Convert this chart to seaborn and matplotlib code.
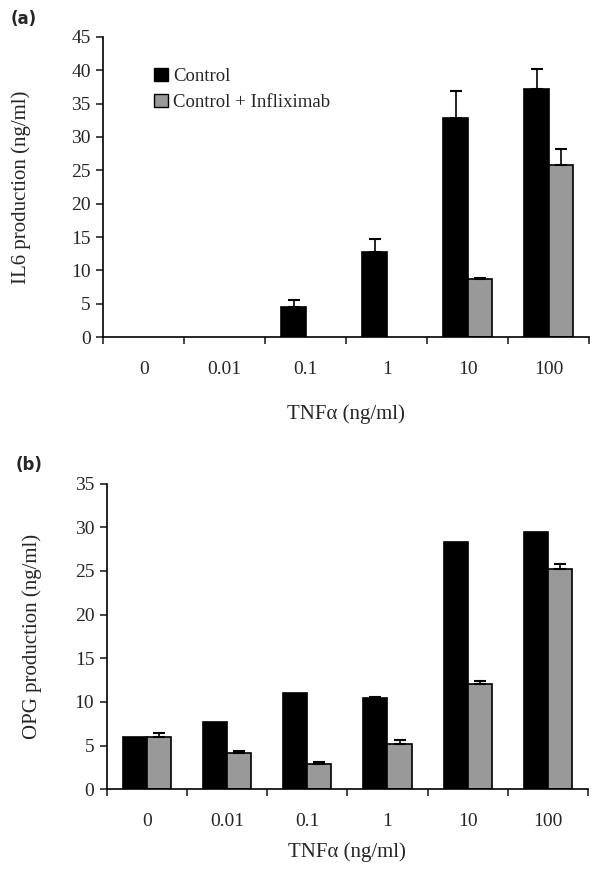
import numpy as np
import pandas as pd
import seaborn as sns
import matplotlib.pyplot as plt
from matplotlib.patches import Patch

doses = ["0", "0.01", "0.1", "1", "10", "100"]
groups = ["Control", "Control + Infliximab"]

il6_control = [0, 0, 4.5, 12.8, 32.8, 37.2]
il6_control_err = [0, 0, 1.1, 1.9, 4.1, 3.0]
il6_inflix = [0, 0, 0, 0, 8.7, 25.8]
il6_inflix_err = [0, 0, 0, 0, 0.2, 2.4]

opg_control = [6.0, 7.7, 11.0, 10.4, 28.3, 29.4]
opg_control_err = [0, 0, 0, 0.2, 0, 0]
opg_inflix = [6.0, 4.2, 2.9, 5.2, 12.0, 25.2]
opg_inflix_err = [0.4, 0.2, 0.2, 0.4, 0.4, 0.6]

sns.set_style("white")
plt.rcParams['font.family'] = ['Liberation Serif', 'DejaVu Serif']

colors = {"Control": "black", "Control + Infliximab": "#999999"}


def make_df(ctrl, inf):
    return pd.DataFrame({
        "dose": doses * 2,
        "group": [groups[0]] * 6 + [groups[1]] * 6,
        "value": list(ctrl) + list(inf),
    })


def draw_panel(ax, ctrl, ctrl_err, inf, inf_err, ymax, ylabel, tag, ylab_x, xlab_pad):
    df = make_df(ctrl, inf)
    sns.barplot(data=df, x="dose", y="value", hue="group", order=doses,
                hue_order=groups, palette=colors, width=0.6, ax=ax,
                edgecolor="black", linewidth=1.2, errorbar=None, legend=False)
    # error bars (upper only) from bar patches, hide empty bars
    errs = list(ctrl_err) + list(inf_err)
    vals = list(ctrl) + list(inf)
    for p, v, e in zip(ax.patches[:12], vals, errs):
        if v == 0:
            p.set_linewidth(0)
        if e > 0:
            xc = p.get_x() + p.get_width() / 2
            ax.errorbar(xc, v, yerr=[[0], [e]], fmt="none", ecolor="black",
                        elinewidth=1.2, capsize=4, capthick=1.5)
    ax.set_ylim(0, ymax)
    ax.set_xlim(-0.5, 5.5)
    ax.set_yticks(np.arange(0, ymax + 1, 5))
    ax.set_xticks(np.arange(-0.5, 6, 1), minor=True)
    ax.tick_params(axis="x", which="major", length=0, pad=17, labelsize=14)
    ax.tick_params(axis="x", which="minor", length=5, width=1.2, direction="out", bottom=True)
    ax.tick_params(axis="y", length=5, width=1.2, direction="out", left=True, labelsize=14, pad=4)
    for s in ["top", "right"]:
        ax.spines[s].set_visible(False)
    for s in ["left", "bottom"]:
        ax.spines[s].set_color("black")
        ax.spines[s].set_linewidth(1.2)
    ax.set_ylabel(ylabel, fontsize=15)
    ax.yaxis.set_label_coords(ylab_x, 0.5)
    ax.set_xlabel("TNF\u03b1 (ng/ml)", fontsize=15, labelpad=xlab_pad)
    ax.text(-0.19, 1.06, tag, transform=ax.transAxes, fontsize=12,
            fontweight="bold", family="DejaVu Sans", va="center")


fig = plt.figure(figsize=(6, 8.76), dpi=100)
ax1 = fig.add_axes([0.172, 0.615, 0.81, 0.343])
ax2 = fig.add_axes([0.178, 0.099, 0.802, 0.349])

draw_panel(ax1, il6_control, il6_control_err, il6_inflix, il6_inflix_err,
           45, "IL6 production (ng/ml)", "(a)", -0.148, 19)
draw_panel(ax2, opg_control, opg_control_err, opg_inflix, opg_inflix_err,
           35, "OPG production (ng/ml)", "(b)", -0.135, 9)

handles = [Patch(facecolor=colors[g], edgecolor="black", label=g) for g in groups]
ax1.legend(handles=handles, loc="upper left", bbox_to_anchor=(0.09, 0.92),
           frameon=False, fontsize=13.5, handlelength=0.7, handleheight=0.7,
           handletextpad=0.3, labelspacing=0.45, borderaxespad=0)

fig.savefig("out.png", dpi=100)
